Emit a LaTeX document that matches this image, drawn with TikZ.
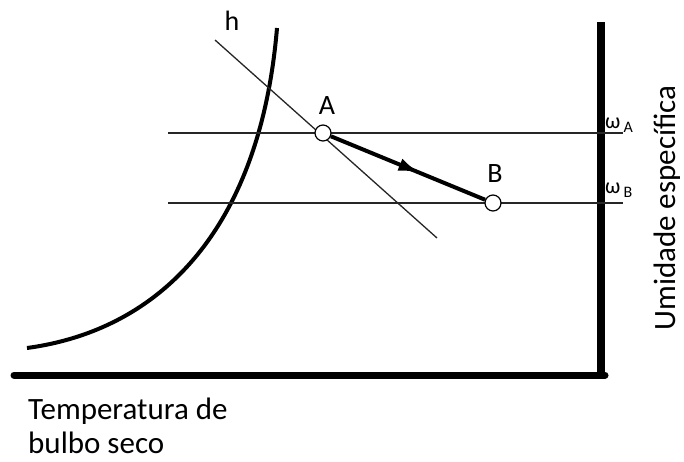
\documentclass[tikz,border=0pt]{standalone}
\usepackage{fontspec}
\setmainfont{Carlito}
\usetikzlibrary{arrows.meta,decorations.markings}
\tikzset{
  eixo/.style={line width=7pt},
  linha/.style={line width=1.3pt, black!85},
  ponto/.style={circle, draw, line width=1.2pt, fill=white, minimum size=16pt, inner sep=0pt},
  rotulo/.style={font=\fontsize{28}{30}\selectfont, inner sep=0pt},
  texto/.style={font=\fontsize{31}{34}\selectfont, inner sep=0pt},
  umidade/.style={font=\fontsize{22}{22}\selectfont, inner sep=0pt, anchor=west},
  processo/.style={line width=4pt, postaction={decorate},
    decoration={markings, mark=at position 0.58 with {\arrow{Latex[length=22pt,width=13pt]}}}},
}
\newcommand{\wsub}[1]{ω\hspace{3pt}\raisebox{-4pt}{\fontsize{16}{16}\selectfont #1}}
\begin{document}
\begin{tikzpicture}[x=1pt,y=-1pt]
  % moldura da figura (em pixels)
  \useasboundingbox (0,0) rectangle (684,461);

  % umidades dos estados A e B
  \def\yA{133}
  \def\yB{203}

  % eixos
  \draw[eixo, line cap=round] (14,375) -- (605,375);
  \draw[eixo, line width=8pt] (601,22) -- (601,379);

  % curva de saturacao
  \draw[line width=4pt] (27,348) .. controls (160,330) and (260,230) .. (277,28);

  % linha de entalpia constante h
  \draw[linha] (215,40) -- (437,238);
  \node[rotulo] (h) at (232,21) {h};

  % linhas de umidade especifica constante
  \draw[linha] (168,\yA) -- (623,\yA);
  \draw[linha] (168,\yB) -- (623,\yB);
  \node[umidade] (wA) at (605,125) {\wsub{A}};
  \node[umidade] (wB) at (605,190) {\wsub{B}};

  % estados A e B
  \node[ponto] (A) at (323,\yA) {};
  \node[ponto] (B) at (493,\yB) {};
  \node[rotulo] (lA) at (327,106) {A};
  \node[rotulo] (lB) at (495,174) {B};
  \draw[processo] (A) -- (B);

  % titulos dos eixos
  \node[texto, rotate=90] (umid) at (667,208) {Umidade específica};
  \node[texto, align=left, anchor=north west] (temp) at (28,398) {Temperatura de\\bulbo seco};
\end{tikzpicture}
\end{document}
